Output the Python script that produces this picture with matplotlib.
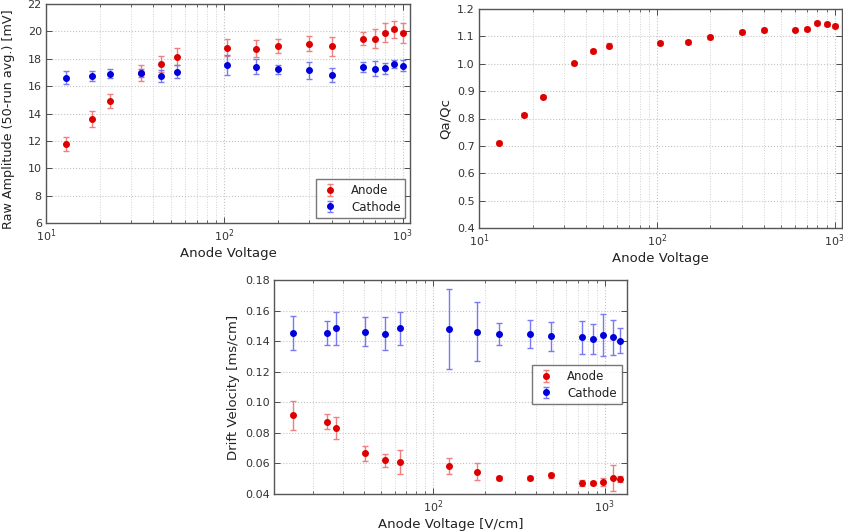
import matplotlib
matplotlib.use("Agg")
import matplotlib.pyplot as plt
from matplotlib.ticker import LogLocator, MultipleLocator

# Amplitude and charge-ratio scan (anode voltage)
voltage = [13, 18, 23, 34, 44, 54, 104, 150, 200, 300, 400, 600, 700, 800, 900, 1000]
anode_amp = [11.78, 13.61, 14.90, 16.95, 17.60, 18.16, 18.81, 18.74, 18.91, 19.10, 18.91,
             19.47, 19.47, 19.91, 20.15, 19.86]
anode_amp_err = [0.50, 0.58, 0.52, 0.60, 0.60, 0.65, 0.60, 0.63, 0.50, 0.57, 0.68,
                 0.50, 0.68, 0.67, 0.62, 0.73]
cathode_amp = [16.62, 16.74, 16.91, 16.96, 16.74, 17.04, 17.52, 17.43, 17.23, 17.16, 16.84,
               17.38, 17.28, 17.30, 17.62, 17.50]
cathode_amp_err = [0.45, 0.36, 0.35, 0.30, 0.45, 0.48, 0.73, 0.57, 0.33, 0.63, 0.51,
                   0.38, 0.53, 0.39, 0.30, 0.39]
ratio = [0.710, 0.813, 0.880, 1.002, 1.047, 1.066, 1.076, 1.079, 1.098, 1.116, 1.124,
         1.124, 1.128, 1.150, 1.145, 1.139]
ratio_err = [0.006, 0.007, 0.006, 0.006, 0.007, 0.008, 0.008, 0.008, 0.006, 0.007, 0.007,
             0.006, 0.008, 0.007, 0.007, 0.008]

# Drift velocity scan (field in V/cm)
field = [15.4, 24.1, 27.4, 40.3, 52.5, 64.5, 124, 180, 242, 366, 489, 735, 855, 982, 1118, 1234]
anode_vel = [0.0914, 0.0874, 0.0833, 0.0665, 0.0621, 0.0610, 0.0582, 0.0545, 0.0503, 0.0503,
             0.0523, 0.0472, 0.0472, 0.0481, 0.0505, 0.0499]
anode_vel_err = [0.0095, 0.0051, 0.0070, 0.0046, 0.0043, 0.0076, 0.0051, 0.0056, 0.0012, 0.0012,
                 0.0017, 0.0020, 0.0015, 0.0026, 0.0085, 0.0020]
cathode_vel = [0.1453, 0.1453, 0.1483, 0.1462, 0.1448, 0.1483, 0.1479, 0.1462, 0.1448, 0.1448,
               0.1433, 0.1424, 0.1414, 0.1442, 0.1424, 0.1403]
cathode_vel_err = [0.0114, 0.0079, 0.0108, 0.0096, 0.0109, 0.0110, 0.0262, 0.0193, 0.0072, 0.0092,
                   0.0095, 0.0106, 0.0096, 0.0138, 0.0117, 0.0083]

plt.rcParams.update({
    "font.family": "DejaVu Sans",
    "xtick.direction": "in",
    "ytick.direction": "in",
    "xtick.top": True,
    "ytick.right": True,
    "xtick.labelsize": 8,
    "ytick.labelsize": 8,
    "axes.labelsize": 9.5,
    "axes.edgecolor": "#555555",
    "text.color": "#222222",
    "xtick.color": "#333333",
    "ytick.color": "#333333",
    "axes.labelcolor": "#222222",
    "mathtext.default": "regular",
})

W, H = 843, 532
fig = plt.figure(figsize=(W / 100, H / 100), dpi=100)


def add_ax(left, top, right, bottom):
    return fig.add_axes([left / W, 1 - bottom / H, (right - left) / W, (bottom - top) / H])


def style_ax(ax):
    ax.set_xscale("log")
    ax.xaxis.set_major_locator(LogLocator(base=10))
    ax.xaxis.set_minor_locator(LogLocator(base=10, subs=range(2, 10)))
    ax.grid(True, which="major", color="#c4c4c4", linestyle=":", linewidth=0.8)
    ax.grid(True, which="minor", axis="x", color="#d2d2d2", linestyle=":", linewidth=0.7)
    ax.tick_params(which="major", length=4, width=0.6, pad=3)
    ax.tick_params(which="minor", length=2, width=0.5)
    for s in ax.spines.values():
        s.set_linewidth(1.0)
    ax.set_axisbelow(True)


eb_kw = dict(fmt="o", markersize=4, capsize=2.2, elinewidth=1.0, capthick=1.0)


def errplot(ax, x, y, e, color, ecolor, label=None):
    return ax.errorbar(x, y, yerr=e, color=color, ecolor=ecolor, mec=color,
                       label=label, **eb_kw)


def style_legend(leg):
    leg.get_frame().set_edgecolor("#555555")
    leg.get_frame().set_linewidth(1.0)


RED, RED_E = "#dd0000", "#f07f7f"
BLUE, BLUE_E = "#0000dd", "#7a7af0"

# Raw amplitude
ax1 = add_ax(46, 4, 410, 223)
style_ax(ax1)
errplot(ax1, voltage, anode_amp, anode_amp_err, RED, RED_E, "Anode")
errplot(ax1, voltage, cathode_amp, cathode_amp_err, BLUE, BLUE_E, "Cathode")
ax1.set_xlim(10, 1100)
ax1.set_ylim(6, 22)
ax1.yaxis.set_major_locator(MultipleLocator(2))
ax1.set_xlabel("Anode Voltage", labelpad=2)
ax1.set_ylabel("Raw Amplitude (50-run avg.) [mV]", labelpad=2, fontsize=9.2)
ax1.yaxis.set_label_coords(-0.085, 0.475)
leg1 = ax1.legend(loc="lower right", numpoints=1, fontsize=8.5, fancybox=False,
                  borderaxespad=0.4, handletextpad=1.0, borderpad=0.4,
                  handlelength=1.6, labelspacing=0.3)
style_legend(leg1)

# Charge ratio
ax2 = add_ax(479, 9, 842, 228)
style_ax(ax2)
errplot(ax2, voltage, ratio, ratio_err, RED, RED_E)
ax2.set_xlim(10, 1100)
ax2.set_ylim(0.4, 1.2)
ax2.yaxis.set_major_locator(MultipleLocator(0.1))
ax2.set_xlabel("Anode Voltage", labelpad=2)
ax2.set_ylabel("Qa/Qc", labelpad=4)

# Drift velocity
ax3 = add_ax(274, 280, 627, 494)
style_ax(ax3)
errplot(ax3, field, anode_vel, anode_vel_err, RED, RED_E, "Anode")
errplot(ax3, field, cathode_vel, cathode_vel_err, BLUE, BLUE_E, "Cathode")
ax3.set_xlim(11.9, 1350)
ax3.set_ylim(0.04, 0.18)
ax3.yaxis.set_major_locator(MultipleLocator(0.02))
ax3.yaxis.set_major_formatter(plt.FormatStrFormatter("%.2f"))
ax3.set_xlabel("Anode Voltage [V/cm]", labelpad=2)
ax3.set_ylabel("Drift Velocity [ms/cm]", labelpad=4)
leg3 = ax3.legend(loc="center right", numpoints=1, fontsize=8.5, fancybox=False,
                  bbox_to_anchor=(0.985, 0.51), borderaxespad=0.0,
                  handletextpad=1.0, borderpad=0.4, handlelength=1.6,
                  labelspacing=0.3)
style_legend(leg3)

fig.savefig("out.png", dpi=100)
